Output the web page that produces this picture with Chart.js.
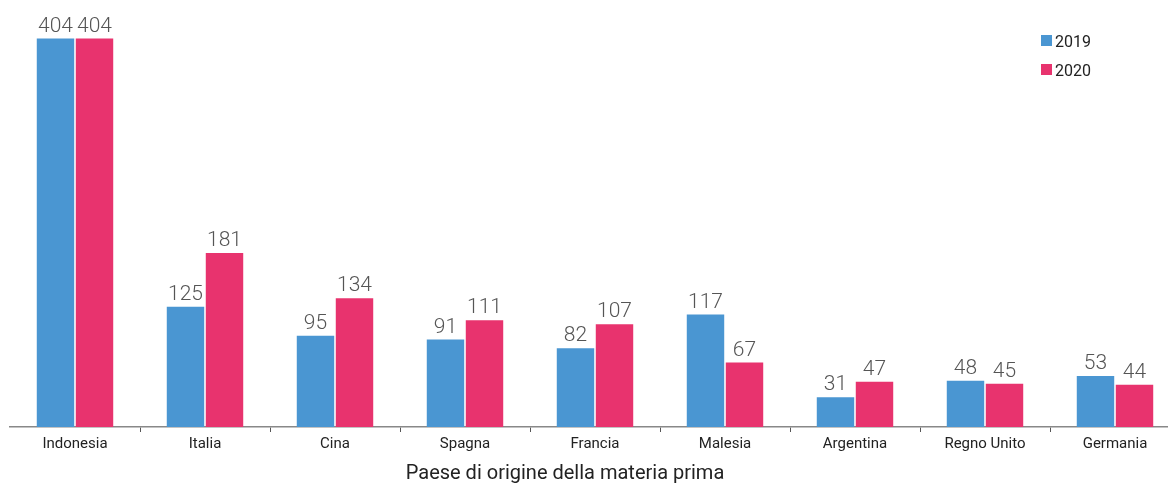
<!DOCTYPE html>
<html>
<head>
<meta charset="utf-8">
<script src="https://cdn.jsdelivr.net/npm/chart.js@4"></script>
<style>
  html, body { margin: 0; padding: 0; background: #fff; overflow: hidden; }
  #wrap { width: 1190px; height: 484px; position: relative; }
</style>
</head>
<body>
<div id="wrap"><canvas id="myChart" width="1190" height="484"></canvas></div>
<script>
// data
const countries = ["Indonesia", "Italia", "Cina", "Spagna", "Francia", "Malesia", "Argentina", "Regno Unito", "Germania"];
const years = ["2019", "2020"];
const values2019 = [404, 125, 95, 91, 82, 117, 31, 48, 53];
const values2020 = [404, 181, 134, 111, 107, 67, 47, 45, 44];
const colors = ["#4a96d2", "#e8336e"];
const axisTitle = "Paese di origine della materia prima";

const FONT = "Roboto, 'Open Sans', sans-serif";

// value labels on top of each bar
const valueLabels = {
   id: "valueLabels",
   afterDatasetsDraw(chart) {
      const ctx = chart.ctx;
      ctx.save();
      ctx.font = "300 21px " + FONT;
      ctx.fillStyle = "#555";
      ctx.textAlign = "center";
      ctx.textBaseline = "alphabetic";
      chart.data.datasets.forEach((ds, i) => {
         chart.getDatasetMeta(i).data.forEach((bar, j) => {
            ctx.fillText(ds.data[j], bar.x, bar.y - 7);
         });
      });
      ctx.restore();
   },
};

// legend top right + axis title
const extras = {
   id: "extras",
   afterDraw(chart) {
      const ctx = chart.ctx;
      ctx.save();
      ctx.font = "16px " + FONT;
      ctx.textBaseline = "alphabetic";
      ctx.textAlign = "left";
      chart.data.datasets.forEach((ds, i) => {
         let y = 35 + i * 29;
         ctx.fillStyle = ds.backgroundColor;
         ctx.fillRect(1041, y, 11, 11);
         ctx.fillStyle = "#222";
         ctx.fillText(ds.label, 1055, y + 12);
      });
      ctx.font = "20px " + FONT;
      ctx.textAlign = "center";
      ctx.fillStyle = "#222";
      ctx.fillText(axisTitle, 565, 479);
      ctx.restore();
   },
};

new Chart(document.getElementById("myChart"), {
   type: "bar",
   data: {
      labels: countries,
      datasets: [
         { label: years[0], data: values2019, backgroundColor: colors[0] },
         { label: years[1], data: values2020, backgroundColor: colors[1] },
      ],
   },
   options: {
      responsive: false,
      animation: false,
      maintainAspectRatio: false,
      devicePixelRatio: 1,
      layout: { padding: { left: 10, right: 10, top: 4, bottom: 28 } },
      categoryPercentage: 0.6,
      barPercentage: 0.96,
      plugins: { legend: { display: false }, tooltip: { enabled: false } },
      scales: {
         x: {
            grid: {
               drawOnChartArea: false,
               offset: true,
               tickLength: 5,
               color: (c) => (c.index === 0 ? "rgba(0,0,0,0)" : "#555"),
               lineWidth: 1,
            },
            border: { display: true, color: "#888", width: 1.5 },
            ticks: { color: "#222", font: { family: FONT, size: 15 }, padding: 3, maxRotation: 0, autoSkip: false },
         },
         y: { display: false, min: 0, max: 440 },
      },
   },
   plugins: [valueLabels, extras],
});
</script>
</body>
</html>
